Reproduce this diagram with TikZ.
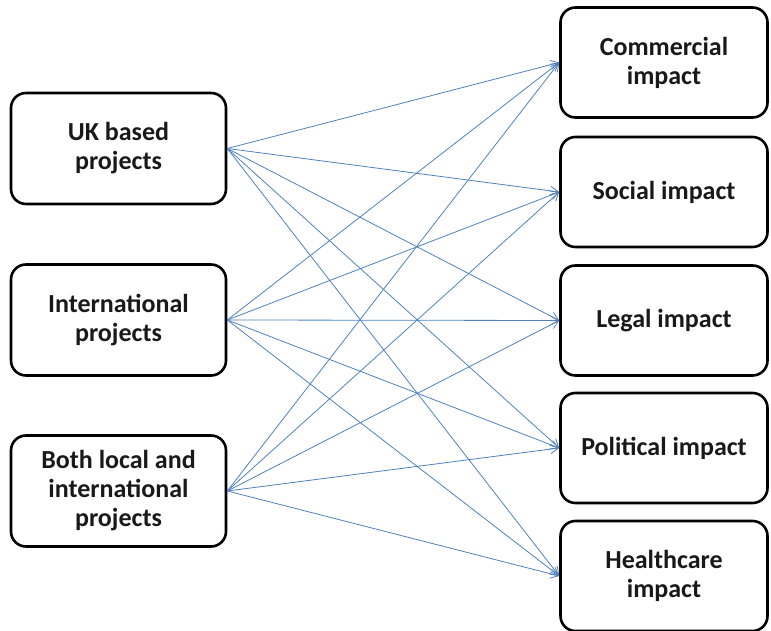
\documentclass[tikz,border=0pt]{standalone}
\usepackage{fontspec}
\setmainfont{Carlito}
\usetikzlibrary{arrows.meta}
\definecolor{linkblue}{RGB}{79,129,189}
\definecolor{txt}{RGB}{25,25,25}
\tikzset{
  box/.style={draw=black, line width=2.6pt, rounded corners=15pt, fill=white,
    align=center, inner sep=0pt, text=txt,
    font=\fontsize{26pt}{29pt}\selectfont\bfseries},
  lbox/.style={box, minimum width=215pt, minimum height=111pt},
  rbox/.style={box, minimum width=207pt, minimum height=110pt},
  conn/.style={draw=linkblue, line width=0.8pt, -{Straight Barb[length=8pt,width=9pt,line width=0.8pt]}}
}
\begin{document}
\begin{tikzpicture}[x=1pt,y=1pt]
\useasboundingbox (0,0) rectangle (771,631);
% left boxes (y = 631 - image y)
\node[lbox] (uk)   at (118.5,482.5) {UK based\\projects};
\node[lbox] (intl) at (118.5,311)   {International\\projects};
\node[lbox] (both) at (118.5,140)   {Both local and\\international\\projects};
% right boxes
\node[rbox] (com) at (664,568.5) {Commercial\\impact};
\node[rbox] (soc) at (664,439)   {Social impact};
\node[rbox] (leg) at (664,310.5) {Legal impact};
\node[rbox] (pol) at (664,183)   {Political impact};
\node[rbox] (hea) at (664,55)    {Healthcare\\impact};
% connectors
\foreach \s in {uk,intl,both}{
  \foreach \t in {com,soc,leg,pol,hea}{
    \draw[conn] (\s.east) -- (\t.west);
  }
}
\end{tikzpicture}
\end{document}
